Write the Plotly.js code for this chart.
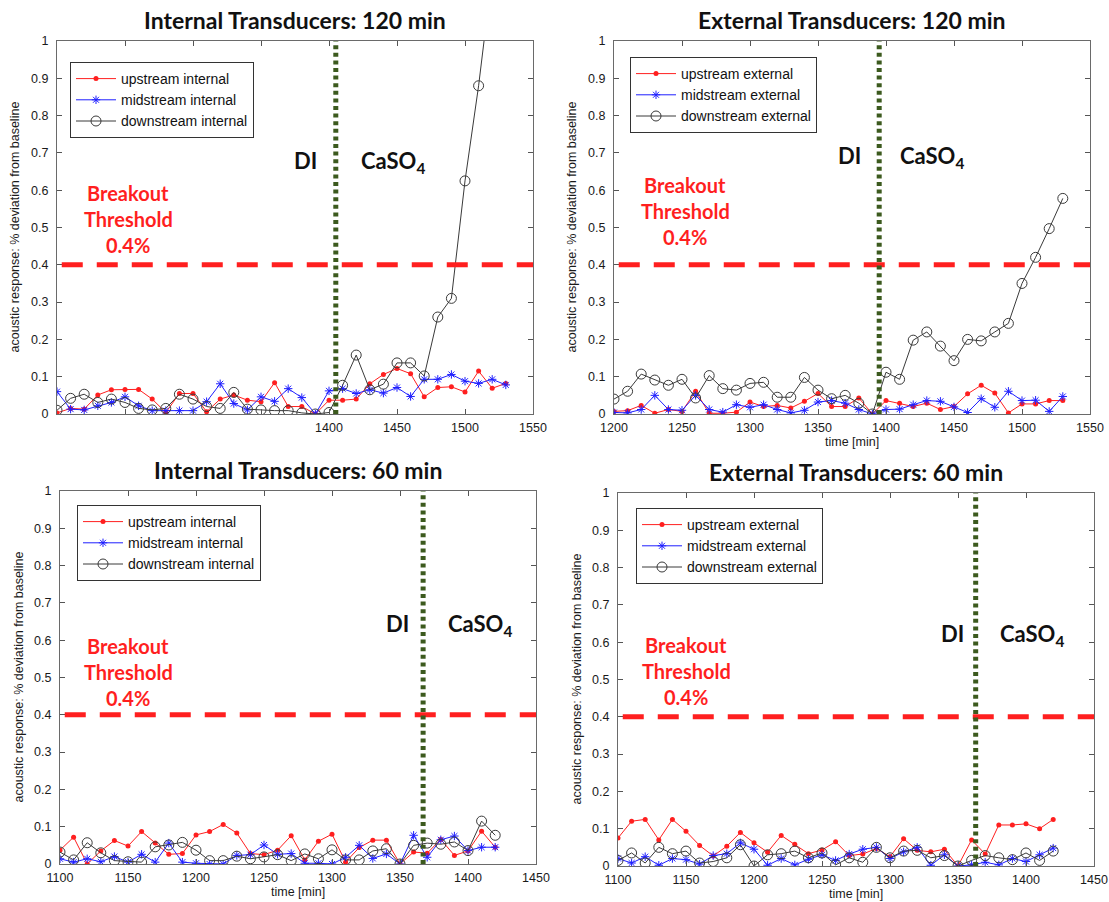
<!DOCTYPE html>
<html>
<head>
<meta charset="utf-8">
<script src="https://cdn.plot.ly/plotly-3.0.1.min.js"></script>
<style>
  html, body { margin: 0; padding: 0; background: #ffffff; }
  #chart { width: 1109px; height: 902px; }
</style>
</head>
<body>
<div id="chart"></div>
<script>
// ---------- time axes [min] ----------
const time120 = [1200, 1210, 1220, 1230, 1240, 1250, 1260, 1270, 1280, 1290, 1300, 1310, 1320, 1330, 1340, 1350, 1360,
                 1370, 1380, 1390, 1400, 1410, 1420, 1430, 1440, 1450, 1460, 1470, 1480, 1490, 1500, 1510, 1520, 1530];
const time60 = [1100, 1110, 1120, 1130, 1140, 1150, 1160, 1170, 1180, 1190, 1200, 1210, 1220, 1230, 1240, 1250, 1260,
                1270, 1280, 1290, 1300, 1310, 1320, 1330, 1340, 1350, 1360, 1370, 1380, 1390, 1400, 1410, 1420];

// ---------- internal transducers, 120 min ----------
const int120Up = [0.003, 0.015, 0.013, 0.051, 0.065, 0.066, 0.066, 0.040, 0.004, 0.055, 0.055, 0.006, 0.040, 0.051, 0.037, 0.033, 0.084,
                  0.020, 0.020, 0.000, 0.037, 0.037, 0.040, 0.081, 0.106, 0.122, 0.108, 0.046, 0.071, 0.073, 0.059, 0.115, 0.069, 0.082];
const int120Mid = [0.060, 0.013, 0.011, 0.022, 0.031, 0.046, 0.022, 0.009, 0.009, 0.009, 0.009, 0.033, 0.081, 0.028, 0.011, 0.046, 0.034,
                   0.068, 0.044, 0.000, 0.062, 0.068, 0.055, 0.065, 0.056, 0.071, 0.047, 0.093, 0.093, 0.106, 0.088, 0.082, 0.093, 0.078];
const int120Down = [0.010, 0.042, 0.053, 0.031, 0.040, 0.031, 0.015, 0.011, 0.015, 0.053, 0.040, 0.020, 0.015, 0.058, 0.013, 0.011, 0.009,
                    0.009, 0.003, 0.000, 0.004, 0.077, 0.158, 0.065, 0.080, 0.137, 0.137, 0.102, 0.260, 0.310, 0.625, 0.880, 1.180];

// ---------- external transducers, 120 min ----------
const ext120Up = [0.007, 0.009, 0.023, 0.002, 0.012, 0.007, 0.061, 0.002, 0.002, 0.005, 0.032, 0.020, 0.023, 0.016, 0.034, 0.055, 0.020,
                  0.020, 0.043, 0.000, 0.036, 0.029, 0.020, 0.029, 0.012, 0.020, 0.054, 0.077, 0.056, 0.003, 0.027, 0.027, 0.036, 0.036];
const ext120Mid = [0.004, 0.003, 0.012, 0.050, 0.012, 0.010, 0.050, 0.012, 0.005, 0.025, 0.018, 0.025, 0.012, 0.003, 0.010, 0.032, 0.036,
                   0.029, 0.012, 0.000, 0.012, 0.013, 0.025, 0.036, 0.034, 0.019, 0.004, 0.041, 0.018, 0.061, 0.036, 0.037, 0.007, 0.047];
const ext120Down = [0.040, 0.061, 0.107, 0.091, 0.077, 0.093, 0.043, 0.103, 0.068, 0.064, 0.082, 0.085, 0.045, 0.045, 0.098, 0.064, 0.041,
                    0.050, 0.029, 0.000, 0.112, 0.093, 0.198, 0.220, 0.182, 0.143, 0.200, 0.196, 0.220, 0.243, 0.350, 0.420, 0.497, 0.578];

// ---------- internal transducers, 60 min ----------
const int60Up = [0.037, 0.072, 0.000, 0.035, 0.063, 0.048, 0.087, 0.056, 0.026, 0.028, 0.078, 0.087, 0.106, 0.083, 0.028, 0.025, 0.037,
                 0.076, 0.011, 0.061, 0.080, 0.005, 0.044, 0.064, 0.064, 0.000, 0.032, 0.029, 0.066, 0.023, 0.035, 0.088, 0.045];
const int60Mid = [0.014, 0.005, 0.014, 0.006, 0.020, 0.005, 0.026, 0.005, 0.056, 0.005, 0.002, 0.000, 0.000, 0.023, 0.025, 0.051, 0.026,
                  0.028, 0.002, 0.002, 0.000, 0.018, 0.050, 0.015, 0.027, 0.000, 0.077, 0.018, 0.065, 0.075, 0.036, 0.045, 0.045];
const int60Down = [0.032, 0.011, 0.057, 0.030, 0.009, 0.006, 0.005, 0.046, 0.051, 0.058, 0.037, 0.009, 0.009, 0.021, 0.014, 0.019, 0.025,
                   0.009, 0.027, 0.014, 0.038, 0.011, 0.011, 0.035, 0.041, 0.000, 0.050, 0.056, 0.053, 0.059, 0.036, 0.115, 0.077];

// ---------- external transducers, 60 min ----------
const ext60Up = [0.075, 0.120, 0.125, 0.070, 0.125, 0.093, 0.055, 0.027, 0.053, 0.090, 0.062, 0.037, 0.082, 0.058, 0.033, 0.043, 0.065,
                 0.028, 0.032, 0.047, 0.025, 0.073, 0.042, 0.038, 0.045, 0.000, 0.070, 0.032, 0.110, 0.110, 0.113, 0.100, 0.125];
const ext60Mid = [0.020, 0.008, 0.025, 0.002, 0.020, 0.017, 0.005, 0.028, 0.033, 0.062, 0.045, 0.002, 0.020, 0.003, 0.018, 0.030, 0.015,
                  0.032, 0.045, 0.050, 0.020, 0.038, 0.050, 0.002, 0.030, 0.000, 0.003, 0.010, 0.003, 0.020, 0.012, 0.030, 0.048];
const ext60Down = [0.015, 0.035, 0.008, 0.050, 0.033, 0.040, 0.008, 0.012, 0.022, 0.057, 0.000, 0.030, 0.033, 0.040, 0.022, 0.035, 0.003,
                   0.022, 0.010, 0.050, 0.022, 0.040, 0.042, 0.022, 0.028, 0.000, 0.015, 0.028, 0.022, 0.017, 0.035, 0.015, 0.040];

// ---------- panel labels and reference values ----------
const panelTitles = ['Internal Transducers: 120 min', 'External Transducers: 120 min',
                     'Internal Transducers: 60 min', 'External Transducers: 60 min'];
const seriesNamesInt = ['upstream internal', 'midstream internal', 'downstream internal'];
const seriesNamesExt = ['upstream external', 'midstream external', 'downstream external'];
const breakoutThreshold = 0.4;                 // % deviation
const breakoutLabel = ['Breakout', 'Threshold', '0.4%'];
const switchTime = [1405, 1395, 1367, 1363];   // DI -> CaSO4 changeover [min]
const xRange120 = [1200, 1550];
const xRange60 = [1100, 1450];
const xTicks120Int = [1400, 1450, 1500, 1550];   // labelled ticks only; unlabelled ones come from minor ticks
const xTicks120Ext = [1200, 1250, 1300, 1350, 1400, 1450, 1500, 1550];
const xTicks60 = [1100, 1150, 1200, 1250, 1300, 1350, 1400, 1450];
const yTicks = [0, 0.1, 0.2, 0.3, 0.4, 0.5, 0.6, 0.7, 0.8, 0.9, 1];
const yTickText = ['0', '0.1', '0.2', '0.3', '0.4', '0.5', '0.6', '0.7', '0.8', '0.9', '1'];
const yTitle = 'acoustic response: % deviation from baseline';
const xTitle = 'time [min]';

// ---------- page geometry (pixels) ----------
const W = 1109, H = 902;
const px = v => v / W;
const py = v => 1 - v / H;
// plot boxes: [left, top, right, bottom]
const boxes = [
  [57, 41, 533, 414],
  [614, 41, 1090, 414],
  [60, 491, 536, 864],
  [618, 493, 1094, 866]
];

const TICK_FONT = { family: 'Liberation Sans, Arial, sans-serif', size: 12.5, color: '#1a1a1a' };
const LABEL_FAMILY = 'Lato, "Open Sans", sans-serif';
const RED = '#ff1f1f', BLUE = '#1f1fff', GREY = '#3a3a3a', GREEN = '#3c5a1e';

const panels = [
  { t: time120, up: int120Up, mid: int120Mid, down: int120Down, names: seriesNamesInt,
    range: xRange120, tv: xTicks120Int, xtitle: false,
    legend: [70, 62], di: [305, 160], caso: [393, 162], brk: [128, 193] },
  { t: time120, up: ext120Up, mid: ext120Mid, down: ext120Down, names: seriesNamesExt,
    range: xRange120, tv: xTicks120Ext, xtitle: true,
    legend: [630, 57], di: [849, 155], caso: [932, 157], brk: [685, 185] },
  { t: time60, up: int60Up, mid: int60Mid, down: int60Down, names: seriesNamesInt,
    range: xRange60, tv: xTicks60, xtitle: true,
    legend: [77, 505], di: [397, 623], caso: [480, 625], brk: [128, 646] },
  { t: time60, up: ext60Up, mid: ext60Mid, down: ext60Down, names: seriesNamesExt,
    range: xRange60, tv: xTicks60, xtitle: true,
    legend: [636, 508], di: [952, 633], caso: [1032, 635], brk: [686, 645] }
];

const traces = [];
const shapes = [];
const annotations = [];
const layout = {
  width: W, height: H,
  margin: { l: 0, r: 0, t: 0, b: 0 },
  paper_bgcolor: '#ffffff',
  plot_bgcolor: '#ffffff',
  showlegend: true,
  font: TICK_FONT
};

panels.forEach((p, i) => {
  const n = i + 1;
  const xa = n === 1 ? 'x' : 'x' + n;
  const ya = n === 1 ? 'y' : 'y' + n;
  const legendId = n === 1 ? 'legend' : 'legend' + n;
  const b = boxes[i];

  const common = { xaxis: xa, yaxis: ya, legend: legendId, mode: 'lines+markers', cliponaxis: true };
  traces.push(Object.assign({}, common, {
    x: p.t, y: p.up, name: p.names[0],
    line: { color: RED, width: 1 },
    marker: { symbol: 'circle', size: 5, color: RED }
  }));
  traces.push(Object.assign({}, common, {
    x: p.t, y: p.mid, name: p.names[1],
    line: { color: BLUE, width: 1 },
    marker: { symbol: 'asterisk-open', size: 7, color: BLUE, line: { color: BLUE, width: 1 } }
  }));
  traces.push(Object.assign({}, common, {
    x: p.t.slice(0, p.down.length), y: p.down, name: p.names[2],
    line: { color: GREY, width: 1 },
    marker: { symbol: 'circle-open', size: 10, color: GREY, line: { color: GREY, width: 1 } }
  }));

  layout['xaxis' + (n === 1 ? '' : n)] = {
    domain: [px(b[0]), px(b[2])], anchor: ya,
    range: p.range, tickmode: 'array', tickvals: p.tv,
    ticks: 'inside', ticklen: 5, tickcolor: '#555', tickwidth: 1,
    minor: { tick0: p.range[0], dtick: 50, ticks: 'inside', ticklen: 5, tickcolor: '#555', showgrid: false },
    showline: true, linecolor: '#6a6a6a', linewidth: 1, mirror: 'ticks',
    showgrid: false, zeroline: false, tickfont: TICK_FONT, ticklabelstandoff: 2
  };
  layout['yaxis' + (n === 1 ? '' : n)] = {
    domain: [py(b[3]), py(b[1])], anchor: xa,
    range: [0, 1], tickmode: 'array', tickvals: yTicks, ticktext: yTickText,
    ticks: 'inside', ticklen: 5, tickcolor: '#555', tickwidth: 1,
    showline: true, linecolor: '#6a6a6a', linewidth: 1, mirror: 'ticks',
    showgrid: false, zeroline: false, tickfont: TICK_FONT, ticklabelstandoff: 5
  };

  layout[legendId] = {
    x: px(p.legend[0]), y: py(p.legend[1]), xanchor: 'left', yanchor: 'top',
    xref: 'paper', yref: 'paper',
    bgcolor: '#ffffff', bordercolor: '#333333', borderwidth: 1,
    font: { family: 'Liberation Sans, Arial, sans-serif', size: 14, color: '#111' },
    itemwidth: 40, tracegroupgap: 0, traceorder: 'normal'
  };

  // breakout threshold
  shapes.push({
    type: 'line', xref: xa + ' domain', yref: ya,
    x0: 0.01, x1: 1, y0: breakoutThreshold, y1: breakoutThreshold,
    line: { color: RED, width: 5, dash: '21px,14px' }, layer: 'above'
  });
  // DI / CaSO4 changeover
  shapes.push({
    type: 'line', xref: xa, yref: ya + ' domain',
    x0: switchTime[i], x1: switchTime[i], y0: 0, y1: 1,
    line: { color: GREEN, width: 5, dash: '4px,3.6px' }, layer: 'above'
  });

  // panel title
  annotations.push({
    xref: 'paper', yref: 'paper', x: px((b[0] + b[2]) / 2), y: py(b[1] - 21),
    text: '<b>' + panelTitles[i] + '</b>', showarrow: false,
    font: { family: LABEL_FAMILY, size: 23, color: '#111' }, xanchor: 'center', yanchor: 'middle'
  });
  // y axis title
  annotations.push({
    xref: 'paper', yref: 'paper', x: px(b[0] - 42), y: py((b[1] + b[3]) / 2),
    text: yTitle, textangle: -90, showarrow: false,
    font: { family: 'Liberation Sans, Arial, sans-serif', size: 12.5, color: '#1a1a1a' },
    xanchor: 'center', yanchor: 'middle'
  });
  // x axis title
  if (p.xtitle) {
    annotations.push({
      xref: 'paper', yref: 'paper', x: px((b[0] + b[2]) / 2), y: py(b[3] + 28),
      text: xTitle, showarrow: false,
      font: { family: 'Liberation Sans, Arial, sans-serif', size: 12.5, color: '#1a1a1a' },
      xanchor: 'center', yanchor: 'middle'
    });
  }
  // DI and CaSO4 labels
  annotations.push({
    xref: 'paper', yref: 'paper', x: px(p.di[0]), y: py(p.di[1]),
    text: '<b>DI</b>', showarrow: false,
    font: { family: LABEL_FAMILY, size: 22, color: '#111' }, xanchor: 'center', yanchor: 'middle'
  });
  annotations.push({
    xref: 'paper', yref: 'paper', x: px(p.caso[0]), y: py(p.caso[1]),
    text: '<b>CaSO<sub>4</sub></b>', showarrow: false,
    font: { family: LABEL_FAMILY, size: 22, color: '#111' }, xanchor: 'center', yanchor: 'middle'
  });
  // breakout threshold label
  breakoutLabel.forEach((line, k) => {
    annotations.push({
      xref: 'paper', yref: 'paper', x: px(p.brk[0]), y: py(p.brk[1] + 26 * k),
      text: '<b>' + line + '</b>', showarrow: false,
      font: { family: LABEL_FAMILY, size: 20, color: RED }, xanchor: 'center', yanchor: 'middle'
    });
  });
});

layout.shapes = shapes;
layout.annotations = annotations;

Plotly.newPlot('chart', traces, layout, { staticPlot: true, displayModeBar: false });
</script>
</body>
</html>
